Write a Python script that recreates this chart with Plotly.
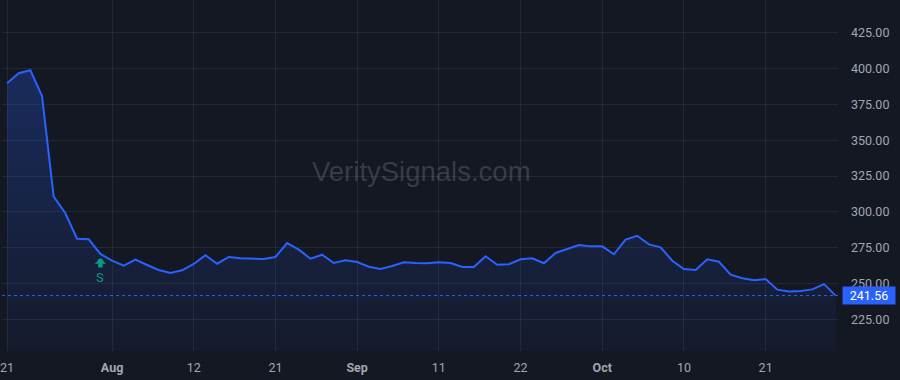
import pandas as pd
import plotly.graph_objects as go

# ---- data ----
dates = [d.strftime("%Y-%m-%d") for d in pd.bdate_range("2025-07-21", "2025-10-29") if d.strftime("%Y-%m-%d") != "2025-09-01"]
prices = [
    389.7, 396.7, 398.8, 380.8, 310.6, 299.0, 281.2, 280.8, 270.6, 265.9,
    262.4, 266.6, 262.9, 259.4, 257.3, 259.2, 263.6, 269.7, 263.8, 268.5,
    267.6, 267.6, 267.1, 268.5, 278.2, 273.6, 267.3, 270.1, 264.3, 266.2,
    265.0, 261.7, 260.1, 262.2, 264.8, 264.3, 264.1, 264.8, 264.3, 261.5,
    261.5, 269.0, 263.1, 263.4, 266.9, 267.6, 264.1, 271.3, 274.1, 276.9,
    275.9, 275.9, 270.4, 280.6, 283.3, 277.3, 275.2, 265.9, 260.1, 259.4,
    266.9, 265.2, 256.1, 253.6, 252.2, 253.1, 245.7, 244.5, 244.8, 245.9,
    249.6, 241.56,
]
tick_dates = ["2025-07-21", "2025-08-01", "2025-08-12", "2025-08-21", "2025-09-02",
              "2025-09-11", "2025-09-22", "2025-10-01", "2025-10-10", "2025-10-21"]
tick_labels = ["21", "<b>Aug</b>", "12", "21", "<b>Sep</b>", "11", "22", "<b>Oct</b>", "10", "21"]
signal_date = "2025-07-31"
signal_label = "S"
last_price = prices[-1]

y_min, y_max = 202.9, 447.8
BG = "#141823"
BLUE = "#2962ff"
GREEN = "#089981"
TXT = "#a3a6af"
GRID = "rgba(255,255,255,0.065)"

fig = go.Figure()
fig.add_trace(go.Scatter(
    x=dates, y=prices, mode="lines",
    line=dict(color=BLUE, width=2),
    fill="tozeroy",
    fillgradient=dict(type="vertical", start=y_min, stop=max(prices),
                      colorscale=[[0, "rgba(41,98,255,0.04)"], [1, "rgba(41,98,255,0.26)"]]),
    hoverinfo="skip", showlegend=False,
))

sig_y = prices[dates.index(signal_date)]
# signal arrow: head + stem drawn as an annotation arrow pointing up
fig.add_annotation(x=signal_date, y=sig_y, xref="x", yref="y", text="",
                   showarrow=True, ax=0, ay=11, axref="pixel", ayref="pixel",
                   arrowhead=1, arrowsize=0.42, arrowwidth=4.5, arrowcolor=GREEN,
                   standoff=0, startstandoff=0, yshift=-4)
fig.add_annotation(x=signal_date, y=sig_y, xref="x", yref="y", text=signal_label,
                   showarrow=False, yshift=-24, font=dict(color=GREEN, size=13, family="Roboto"))

# last price line + label
fig.add_shape(type="line", xref="paper", x0=0, x1=1, yref="y", y0=last_price, y1=last_price,
              line=dict(color=BLUE, width=1, dash="dot"))
fig.add_annotation(xref="paper", x=1, xanchor="left", xshift=4, yref="y", y=last_price,
                   text=f"{last_price:.2f}", showarrow=False, bgcolor=BLUE,
                   font=dict(color="white", size=12.5, family="Roboto"),
                   width=48, height=13, borderpad=2, align="center")

# watermark
fig.add_annotation(xref="paper", yref="paper", x=0.502, y=0.51, text="VeritySignals.com",
                   showarrow=False, font=dict(size=27.5, color="rgba(255,255,255,0.16)",
                                              family="Liberation Sans, Arial"))

fig.update_layout(
    width=900, height=380,
    margin=dict(l=0, r=62, t=0, b=29),
    paper_bgcolor=BG, plot_bgcolor=BG,
    font=dict(family="Roboto", color=TXT, size=12),
    showlegend=False,
    xaxis=dict(type="category", range=[-0.43, 71.2], tickmode="array",
               tickvals=tick_dates, ticktext=tick_labels,
               showgrid=True, gridcolor=GRID, gridwidth=1, zeroline=False,
               showline=False, ticks="", ticklabelstandoff=7,
               tickfont=dict(size=12.5, color=TXT)),
    yaxis=dict(side="right", range=[y_min, y_max], tick0=225, dtick=25,
               tickformat=".2f", showgrid=True, gridcolor=GRID, gridwidth=1,
               zeroline=False, showline=False, ticks="", ticklabelstandoff=12,
               tickfont=dict(size=12.5, color=TXT)),
)

fig.write_html("out.html")
